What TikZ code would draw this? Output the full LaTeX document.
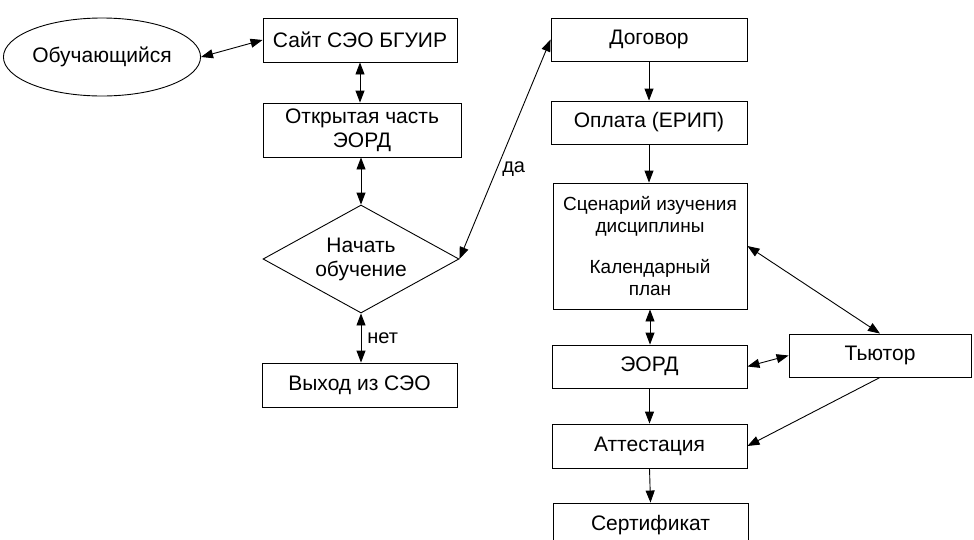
\documentclass[tikz,border=0pt]{standalone}
\usepackage{fontspec}
\setmainfont{Liberation Sans}
\usetikzlibrary{shapes.geometric,arrows.meta}
\begin{document}
\begin{tikzpicture}[x=1pt,y=-1pt,
  every node/.style={font=\fontsize{21}{24}\selectfont, inner sep=0pt},
  box/.style={draw, line width=0.9pt, rectangle, align=center},
  con/.style={line width=0.9pt, -{Triangle[length=12pt,width=9pt]}},
  bicon/.style={line width=0.9pt, {Triangle[length=12pt,width=9pt]}-{Triangle[length=12pt,width=9pt]}},
  lbl/.style={font=\fontsize{20}{23}\selectfont}]
\useasboundingbox (0,0) rectangle (974,539);
% left column
\node[draw, line width=0.9pt, ellipse, minimum width=182pt, minimum height=78pt] (learner) at (102,57) {Обучающийся};
\node[box, minimum width=194pt, minimum height=44pt] (site) at (360,40) {Сайт СЭО БГУИР};
\node[box, minimum width=198pt, minimum height=54pt] (open) at (362,130) {Открытая часть\\ЭОРД};
\node[draw, line width=0.9pt, diamond, aspect=1.8, minimum width=196pt, minimum height=108pt, align=center] (start) at (361,259) {Начать\\обучение};
\node[box, minimum width=195pt, minimum height=44pt] (exit) at (359.5,385) {Выход из СЭО};
% right column
\node[box, minimum width=196pt, minimum height=43pt] (contract) at (649,39.5) {Договор};
\node[box, minimum width=196pt, minimum height=43pt] (pay) at (649,122.5) {Оплата (ЕРИП)};
\node[box, minimum width=194pt, minimum height=126pt, font=\fontsize{19}{22}\selectfont] (scen) at (650,246) {Сценарий изучения\\дисциплины\\[19pt]Календарный\\план};
\node[box, minimum width=195pt, minimum height=43pt] (eord) at (649.5,366.5) {ЭОРД};
\node[box, minimum width=182pt, minimum height=43pt] (tutor) at (880,355.5) {Тьютор};
\node[box, minimum width=195pt, minimum height=44pt] (att) at (649.5,446) {Аттестация};
\node[box, minimum width=195pt, minimum height=44pt] (cert) at (650.5,525) {Сертификат};
% connectors
\draw[bicon] (learner.east) -- (site.west);
\draw[bicon] (site.south) -- (open.north -| site.south);
\draw[bicon] (open.south -| start.north) -- (start.north);
\draw[bicon] (start.south) -- (exit.north -| start.south) node[lbl, midway, right=6pt] {нет};
\draw[bicon] (start.east) -- (contract.west) node[lbl, pos=0.41, right=5pt] {да};
\draw[con] (contract.south) -- (pay.north);
\draw[con] (pay.south) -- (scen.north -| pay.south);
\draw[bicon] (scen.south) -- (eord.north -| scen.south);
\draw[bicon] (scen.east) -- (tutor.north);
\draw[bicon] (eord.east) -- (tutor.west);
\draw[con] (tutor.south) -- (att.east);
\draw[con] (eord.south) -- (att.north);
\draw[con] (att.south) -- (cert.north);
\end{tikzpicture}
\end{document}
